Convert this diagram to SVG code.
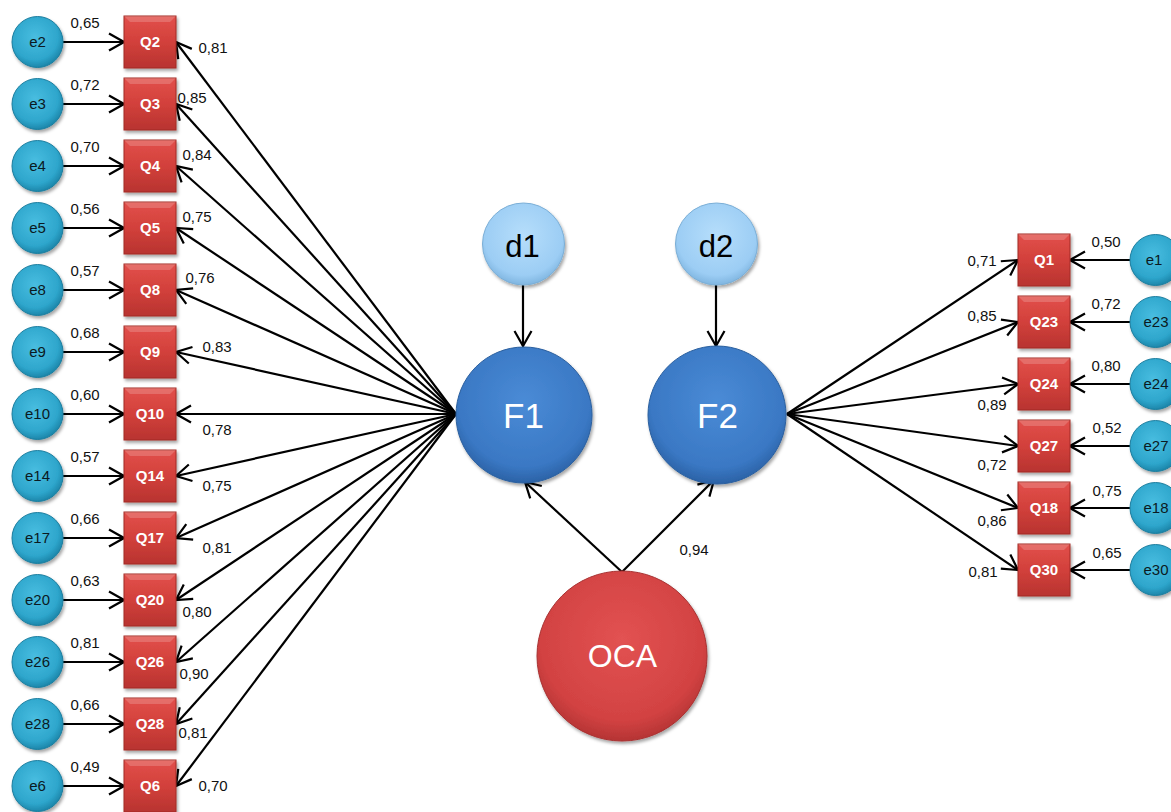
<svg xmlns="http://www.w3.org/2000/svg" width="1171" height="812" viewBox="0 0 1171 812">
  <style>
    .ln { stroke: #000; stroke-width: 2.2; fill: none; marker-end: url(#chev); }
    .lbl { font-family: "Liberation Sans", Arial, sans-serif; font-size: 15px; fill: #111; text-anchor: middle; }
    .etx { font-family: "Liberation Sans", Arial, sans-serif; font-size: 15px; fill: #0b1a22; text-anchor: middle; }
    .qtx { font-family: "Liberation Sans", Arial, sans-serif; font-size: 15px; font-weight: bold; fill: #fff; text-anchor: middle; }
    .big { font-family: "Liberation Sans", Arial, sans-serif; text-anchor: middle; }
    .ecirc { fill: url(#gE); stroke: #1b7d9e; stroke-width: 1; filter: url(#sh); }
    .qbox { fill: url(#gQ); stroke: #a22a27; stroke-width: 1; filter: url(#sh); }
    .qhi { fill: #ffffff; fill-opacity: 0.18; }
  </style>
  <defs>
    <marker id="chev" viewBox="-17 -10 19 20" refX="0" refY="0" markerWidth="19" markerHeight="20" markerUnits="userSpaceOnUse" orient="auto">
      <path d="M-15,-8.5 L0,0 L-15,8.5" fill="none" stroke="#000" stroke-width="2.2"/>
    </marker>
    <filter id="sh" x="-20%" y="-20%" width="150%" height="150%">
      <feDropShadow dx="1.5" dy="2.5" stdDeviation="1.8" flood-color="#000" flood-opacity="0.35"/>
    </filter>
    <radialGradient id="gE" cx="45%" cy="40%" r="60%">
      <stop offset="0" stop-color="#48bde0"/>
      <stop offset="0.75" stop-color="#2ea6cc"/>
      <stop offset="1" stop-color="#1c86aa"/>
    </radialGradient>
    <linearGradient id="gQ" x1="0" y1="0" x2="0" y2="1">
      <stop offset="0" stop-color="#e2504b"/>
      <stop offset="0.5" stop-color="#d2403b"/>
      <stop offset="1" stop-color="#b83330"/>
    </linearGradient>
    <radialGradient id="gF" cx="50%" cy="40%" r="60%">
      <stop offset="0" stop-color="#4a8bd6"/>
      <stop offset="0.8" stop-color="#3a78c4"/>
      <stop offset="1" stop-color="#2b62a6"/>
    </radialGradient>
    <radialGradient id="gD" cx="50%" cy="40%" r="60%">
      <stop offset="0" stop-color="#b6defb"/>
      <stop offset="0.8" stop-color="#9ccdf4"/>
      <stop offset="1" stop-color="#7fb5e0"/>
    </radialGradient>
    <radialGradient id="gO" cx="50%" cy="40%" r="60%">
      <stop offset="0" stop-color="#e25252"/>
      <stop offset="0.8" stop-color="#d24242"/>
      <stop offset="1" stop-color="#b53434"/>
    </radialGradient>
  </defs>

  <!-- connectors -->
  <g id="connectors">
    <!-- left error terms to indicators -->
    <line class="ln" x1="63" y1="42" x2="124" y2="42"/>
    <line class="ln" x1="63" y1="104" x2="124" y2="104"/>
    <line class="ln" x1="63" y1="166" x2="124" y2="166"/>
    <line class="ln" x1="63" y1="228" x2="124" y2="228"/>
    <line class="ln" x1="63" y1="290" x2="124" y2="290"/>
    <line class="ln" x1="63" y1="352" x2="124" y2="352"/>
    <line class="ln" x1="63" y1="414" x2="124" y2="414"/>
    <line class="ln" x1="63" y1="476" x2="124" y2="476"/>
    <line class="ln" x1="63" y1="538" x2="124" y2="538"/>
    <line class="ln" x1="63" y1="600" x2="124" y2="600"/>
    <line class="ln" x1="63" y1="662" x2="124" y2="662"/>
    <line class="ln" x1="63" y1="724" x2="124" y2="724"/>
    <line class="ln" x1="63" y1="786" x2="124" y2="786"/>
    <!-- F1 loadings -->
    <line class="ln" x1="456" y1="414" x2="176" y2="42"/>
    <line class="ln" x1="456" y1="414" x2="176" y2="104"/>
    <line class="ln" x1="456" y1="414" x2="176" y2="166"/>
    <line class="ln" x1="456" y1="414" x2="176" y2="228"/>
    <line class="ln" x1="456" y1="414" x2="176" y2="290"/>
    <line class="ln" x1="456" y1="414" x2="176" y2="352"/>
    <line class="ln" x1="456" y1="414" x2="176" y2="414"/>
    <line class="ln" x1="456" y1="414" x2="176" y2="476"/>
    <line class="ln" x1="456" y1="414" x2="176" y2="538"/>
    <line class="ln" x1="456" y1="414" x2="176" y2="600"/>
    <line class="ln" x1="456" y1="414" x2="176" y2="662"/>
    <line class="ln" x1="456" y1="414" x2="176" y2="724"/>
    <line class="ln" x1="456" y1="414" x2="176" y2="786"/>
    <!-- F2 loadings -->
    <line class="ln" x1="787" y1="414" x2="1018" y2="260"/>
    <line class="ln" x1="787" y1="414" x2="1018" y2="322"/>
    <line class="ln" x1="787" y1="414" x2="1018" y2="384"/>
    <line class="ln" x1="787" y1="414" x2="1018" y2="446"/>
    <line class="ln" x1="787" y1="414" x2="1018" y2="508"/>
    <line class="ln" x1="787" y1="414" x2="1018" y2="570"/>
    <!-- right error terms to indicators -->
    <line class="ln" x1="1130" y1="260" x2="1070" y2="260"/>
    <line class="ln" x1="1130" y1="322" x2="1070" y2="322"/>
    <line class="ln" x1="1130" y1="384" x2="1070" y2="384"/>
    <line class="ln" x1="1130" y1="446" x2="1070" y2="446"/>
    <line class="ln" x1="1130" y1="508" x2="1070" y2="508"/>
    <line class="ln" x1="1130" y1="570" x2="1070" y2="570"/>
    <!-- disturbances -->
    <line class="ln" x1="523" y1="285" x2="523" y2="346"/>
    <line class="ln" x1="716" y1="285" x2="716" y2="346"/>
    <!-- second-order paths -->
    <line class="ln" x1="622" y1="572" x2="525" y2="482"/>
    <line class="ln" x1="622" y1="572" x2="714" y2="480"/>

    <!-- path coefficients -->
    <g class="lbl">
      <text x="85" y="28">0,65</text>
      <text x="85" y="90">0,72</text>
      <text x="85" y="152">0,70</text>
      <text x="85" y="214">0,56</text>
      <text x="85" y="276">0,57</text>
      <text x="85" y="338">0,68</text>
      <text x="85" y="400">0,60</text>
      <text x="85" y="462">0,57</text>
      <text x="85" y="524">0,66</text>
      <text x="85" y="586">0,63</text>
      <text x="85" y="648">0,81</text>
      <text x="85" y="710">0,66</text>
      <text x="85" y="772">0,49</text>

      <text x="213" y="53">0,81</text>
      <text x="192" y="103">0,85</text>
      <text x="197" y="160">0,84</text>
      <text x="197" y="222">0,75</text>
      <text x="200" y="283">0,76</text>
      <text x="217" y="352">0,83</text>
      <text x="217" y="435">0,78</text>
      <text x="217" y="491">0,75</text>
      <text x="217" y="553">0,81</text>
      <text x="197" y="617">0,80</text>
      <text x="194" y="679">0,90</text>
      <text x="193" y="738">0,81</text>
      <text x="213" y="791">0,70</text>

      <text x="982" y="266">0,71</text>
      <text x="982" y="321">0,85</text>
      <text x="992" y="410">0,89</text>
      <text x="992" y="470">0,72</text>
      <text x="992" y="526">0,86</text>
      <text x="983" y="577">0,81</text>

      <text x="1106" y="247">0,50</text>
      <text x="1106" y="309">0,72</text>
      <text x="1106" y="371">0,80</text>
      <text x="1107" y="433">0,52</text>
      <text x="1107" y="496">0,75</text>
      <text x="1107" y="558">0,65</text>

      <text x="694" y="555">0,94</text>
    </g>
  </g>

  <!-- left error terms -->
  <g id="node-e2"><circle class="ecirc" cx="37.5" cy="42" r="25.5"/><text class="etx" x="37.5" y="47">e2</text></g>
  <g id="node-e3"><circle class="ecirc" cx="37.5" cy="104" r="25.5"/><text class="etx" x="37.5" y="109">e3</text></g>
  <g id="node-e4"><circle class="ecirc" cx="37.5" cy="166" r="25.5"/><text class="etx" x="37.5" y="171">e4</text></g>
  <g id="node-e5"><circle class="ecirc" cx="37.5" cy="228" r="25.5"/><text class="etx" x="37.5" y="233">e5</text></g>
  <g id="node-e8"><circle class="ecirc" cx="37.5" cy="290" r="25.5"/><text class="etx" x="37.5" y="295">e8</text></g>
  <g id="node-e9"><circle class="ecirc" cx="37.5" cy="352" r="25.5"/><text class="etx" x="37.5" y="357">e9</text></g>
  <g id="node-e10"><circle class="ecirc" cx="37.5" cy="414" r="25.5"/><text class="etx" x="37.5" y="419">e10</text></g>
  <g id="node-e14"><circle class="ecirc" cx="37.5" cy="476" r="25.5"/><text class="etx" x="37.5" y="481">e14</text></g>
  <g id="node-e17"><circle class="ecirc" cx="37.5" cy="538" r="25.5"/><text class="etx" x="37.5" y="543">e17</text></g>
  <g id="node-e20"><circle class="ecirc" cx="37.5" cy="600" r="25.5"/><text class="etx" x="37.5" y="605">e20</text></g>
  <g id="node-e26"><circle class="ecirc" cx="37.5" cy="662" r="25.5"/><text class="etx" x="37.5" y="667">e26</text></g>
  <g id="node-e28"><circle class="ecirc" cx="37.5" cy="724" r="25.5"/><text class="etx" x="37.5" y="729">e28</text></g>
  <g id="node-e6"><circle class="ecirc" cx="37.5" cy="786" r="25.5"/><text class="etx" x="37.5" y="791">e6</text></g>

  <!-- left indicators -->
  <g id="node-Q2"><rect class="qbox" x="124" y="16" width="52" height="52"/><path class="qhi" d="M124,16 H176 L170,22 H130 Z"/><text class="qtx" x="150" y="47">Q2</text></g>
  <g id="node-Q3"><rect class="qbox" x="124" y="78" width="52" height="52"/><path class="qhi" d="M124,78 H176 L170,84 H130 Z"/><text class="qtx" x="150" y="109">Q3</text></g>
  <g id="node-Q4"><rect class="qbox" x="124" y="140" width="52" height="52"/><path class="qhi" d="M124,140 H176 L170,146 H130 Z"/><text class="qtx" x="150" y="171">Q4</text></g>
  <g id="node-Q5"><rect class="qbox" x="124" y="202" width="52" height="52"/><path class="qhi" d="M124,202 H176 L170,208 H130 Z"/><text class="qtx" x="150" y="233">Q5</text></g>
  <g id="node-Q8"><rect class="qbox" x="124" y="264" width="52" height="52"/><path class="qhi" d="M124,264 H176 L170,270 H130 Z"/><text class="qtx" x="150" y="295">Q8</text></g>
  <g id="node-Q9"><rect class="qbox" x="124" y="326" width="52" height="52"/><path class="qhi" d="M124,326 H176 L170,332 H130 Z"/><text class="qtx" x="150" y="357">Q9</text></g>
  <g id="node-Q10"><rect class="qbox" x="124" y="388" width="52" height="52"/><path class="qhi" d="M124,388 H176 L170,394 H130 Z"/><text class="qtx" x="150" y="419">Q10</text></g>
  <g id="node-Q14"><rect class="qbox" x="124" y="450" width="52" height="52"/><path class="qhi" d="M124,450 H176 L170,456 H130 Z"/><text class="qtx" x="150" y="481">Q14</text></g>
  <g id="node-Q17"><rect class="qbox" x="124" y="512" width="52" height="52"/><path class="qhi" d="M124,512 H176 L170,518 H130 Z"/><text class="qtx" x="150" y="543">Q17</text></g>
  <g id="node-Q20"><rect class="qbox" x="124" y="574" width="52" height="52"/><path class="qhi" d="M124,574 H176 L170,580 H130 Z"/><text class="qtx" x="150" y="605">Q20</text></g>
  <g id="node-Q26"><rect class="qbox" x="124" y="636" width="52" height="52"/><path class="qhi" d="M124,636 H176 L170,642 H130 Z"/><text class="qtx" x="150" y="667">Q26</text></g>
  <g id="node-Q28"><rect class="qbox" x="124" y="698" width="52" height="52"/><path class="qhi" d="M124,698 H176 L170,704 H130 Z"/><text class="qtx" x="150" y="729">Q28</text></g>
  <g id="node-Q6"><rect class="qbox" x="124" y="760" width="52" height="52"/><path class="qhi" d="M124,760 H176 L170,766 H130 Z"/><text class="qtx" x="150" y="791">Q6</text></g>

  <!-- right indicators -->
  <g id="node-Q1"><rect class="qbox" x="1018" y="234" width="52" height="52"/><path class="qhi" d="M1018,234 H1070 L1064,240 H1024 Z"/><text class="qtx" x="1044" y="265">Q1</text></g>
  <g id="node-Q23"><rect class="qbox" x="1018" y="296" width="52" height="52"/><path class="qhi" d="M1018,296 H1070 L1064,302 H1024 Z"/><text class="qtx" x="1044" y="327">Q23</text></g>
  <g id="node-Q24"><rect class="qbox" x="1018" y="358" width="52" height="52"/><path class="qhi" d="M1018,358 H1070 L1064,364 H1024 Z"/><text class="qtx" x="1044" y="389">Q24</text></g>
  <g id="node-Q27"><rect class="qbox" x="1018" y="420" width="52" height="52"/><path class="qhi" d="M1018,420 H1070 L1064,426 H1024 Z"/><text class="qtx" x="1044" y="451">Q27</text></g>
  <g id="node-Q18"><rect class="qbox" x="1018" y="482" width="52" height="52"/><path class="qhi" d="M1018,482 H1070 L1064,488 H1024 Z"/><text class="qtx" x="1044" y="513">Q18</text></g>
  <g id="node-Q30"><rect class="qbox" x="1018" y="544" width="52" height="52"/><path class="qhi" d="M1018,544 H1070 L1064,550 H1024 Z"/><text class="qtx" x="1044" y="575">Q30</text></g>

  <!-- right error terms -->
  <g id="node-e1"><circle class="ecirc" cx="1155.5" cy="260" r="25.5"/><text class="etx" x="1154" y="265">e1</text></g>
  <g id="node-e23"><circle class="ecirc" cx="1155.5" cy="322" r="25.5"/><text class="etx" x="1156" y="327">e23</text></g>
  <g id="node-e24"><circle class="ecirc" cx="1155.5" cy="384" r="25.5"/><text class="etx" x="1156" y="389">e24</text></g>
  <g id="node-e27"><circle class="ecirc" cx="1155.5" cy="446" r="25.5"/><text class="etx" x="1156" y="451">e27</text></g>
  <g id="node-e18"><circle class="ecirc" cx="1155.5" cy="508" r="25.5"/><text class="etx" x="1156" y="513">e18</text></g>
  <g id="node-e30"><circle class="ecirc" cx="1155.5" cy="570" r="25.5"/><text class="etx" x="1156" y="575">e30</text></g>

  <!-- disturbances -->
  <g id="node-d1"><circle cx="523.5" cy="244" r="41" fill="url(#gD)" stroke="#7aaed6" stroke-width="1" filter="url(#sh)"/><text class="big" x="522.5" y="257" font-size="31" fill="#000">d1</text></g>
  <g id="node-d2"><circle cx="716.5" cy="244" r="41" fill="url(#gD)" stroke="#7aaed6" stroke-width="1" filter="url(#sh)"/><text class="big" x="716" y="257" font-size="31" fill="#000">d2</text></g>

  <!-- first-order factors -->
  <g id="node-F1"><circle cx="524" cy="415" r="68" fill="url(#gF)" stroke="#2a5f9e" stroke-width="1" filter="url(#sh)"/><text class="big" x="523.5" y="428" font-size="35" fill="#fff">F1</text></g>
  <g id="node-F2"><circle cx="717" cy="415" r="69" fill="url(#gF)" stroke="#2a5f9e" stroke-width="1" filter="url(#sh)"/><text class="big" x="717.5" y="428" font-size="35" fill="#fff">F2</text></g>

  <!-- second-order factor -->
  <g id="node-OCA"><circle cx="622" cy="656" r="85" fill="url(#gO)" stroke="#a83030" stroke-width="1" filter="url(#sh)"/><text class="big" x="622.5" y="667" font-size="32" fill="#fff">OCA</text></g>
</svg>
